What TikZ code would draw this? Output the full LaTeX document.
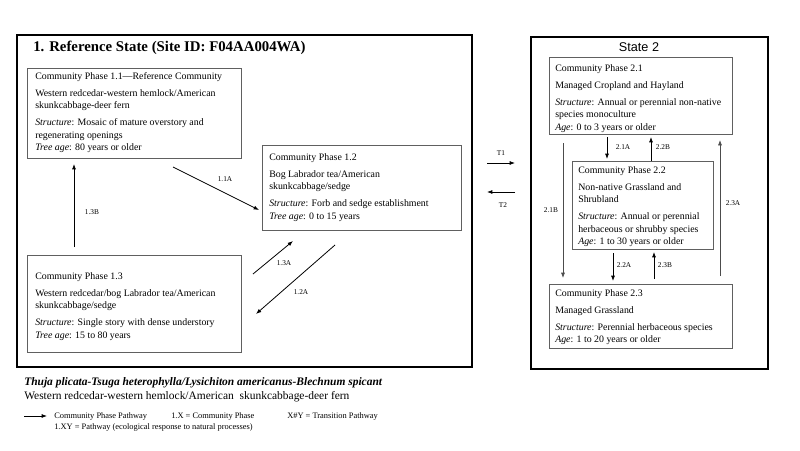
\documentclass[tikz,border=0pt]{standalone}
\usepackage{fontspec}
\setmainfont{Liberation Serif}
\setsansfont{Liberation Sans}
\usetikzlibrary{arrows.meta,fit}
\begin{document}
\begin{tikzpicture}[x=0.75pt,y=-0.75pt,
  outerbox/.style={draw=black,line width=1.5pt,inner sep=0pt},
  phasebox/.style={draw=gray!75!black,line width=0.6pt,inner sep=0pt},
  txt/.style={font=\fontsize{7.4}{9.4}\selectfont,align=left,inner sep=0pt,anchor=north west},
  arr/.style={-{Latex[length=4pt,width=3pt]},line width=0.6pt},
  thinarr/.style={-{Latex[length=4pt,width=3pt]},line width=0.5pt,draw=gray!60!black},
  lbl/.style={font=\fontsize{5.5}{6.5}\selectfont,inner sep=0pt},
  legtxt/.style={font=\fontsize{6.3}{7.5}\selectfont,inner sep=0pt,anchor=west}]
\useasboundingbox (0,0) rectangle (800,450);
\fill[white] (0,0) rectangle (800,450);

% states
\node[outerbox,fit={(17,35) (472,367)}] (s1) {};
\node[outerbox,fit={(531,37) (768,369)}] (s2) {};
\node[font=\fontsize{11.1}{13}\selectfont\bfseries,anchor=west,inner sep=0pt] (t1) at (33,48) {1. Reference State (Site ID: F04AA004WA)};
\node[font=\sffamily\fontsize{9.5}{11}\selectfont,inner sep=0pt] (t2) at (639,47) {State 2};

% phase boxes
\node[phasebox,fit={(27,68) (241,158)}] (p11) {};
\node[phasebox,fit={(262,145) (461,230)}] (p12) {};
\node[phasebox,fit={(27,255) (241,352)}] (p13) {};
\node[phasebox,fit={(549,57) (732,134)}] (p21) {};
\node[phasebox,fit={(572,161) (713,249)}] (p22) {};
\node[phasebox,fit={(549,284) (732,348)}] (p23) {};

\node[txt] (x11) at (35,72) {Community Phase 1.1—Reference Community\\[3.4pt]
Western redcedar-western hemlock/American\\ skunkcabbage-deer fern\\[3.4pt]
\textit{Structure}: Mosaic of mature overstory and\\ regenerating openings\\
\textit{Tree age}: 80 years or older};
\node[txt] (x12) at (269,153) {Community Phase 1.2\\[3.4pt]
Bog Labrador tea/American\\ skunkcabbage/sedge\\[3.4pt]
\textit{Structure}: Forb and sedge establishment\\
\textit{Tree age}: 0 to 15 years};
\node[txt] (x13) at (35,272) {Community Phase 1.3\\[3.4pt]
Western redcedar/bog Labrador tea/American\\ skunkcabbage/sedge\\[3.4pt]
\textit{Structure}: Single story with dense understory\\
\textit{Tree age}: 15 to 80 years};
\node[txt] (x21) at (555,64) {Community Phase 2.1\\[3.4pt]
Managed Cropland and Hayland\\[3.4pt]
\textit{Structure}: Annual or perennial non-native\\ species monoculture\\
\textit{Age}: 0 to 3 years or older};
\node[txt] (x22) at (578,166) {Community Phase 2.2\\[3.4pt]
Non-native Grassland and\\ Shrubland\\[3.4pt]
\textit{Structure}: Annual or perennial\\ herbaceous or shrubby species\\
\textit{Age}: 1 to 30 years or older};
\node[txt] (x23) at (555,289) {Community Phase 2.3\\[3.4pt]
Managed Grassland\\[3.4pt]
\textit{Structure}: Perennial herbaceous species\\
\textit{Age}: 1 to 20 years or older};

% arrow end points
\coordinate (a13b) at (74,247);   \coordinate (b13b) at (74,164);
\coordinate (a11a) at (173,167);  \coordinate (b11a) at (259,210);
\coordinate (a13a) at (253,274);  \coordinate (b13a) at (293,241);
\coordinate (a12a) at (335,245);  \coordinate (b12a) at (256,314);
\coordinate (at1) at (487,163);   \coordinate (bt1) at (515,163);
\coordinate (at2) at (515,192);   \coordinate (bt2) at (487,192);
\coordinate (a21a) at (607,137);  \coordinate (b21a) at (607,159);
\coordinate (a22b) at (651,161);  \coordinate (b22b) at (651,137);
\coordinate (a21b) at (563,143);  \coordinate (b21b) at (563,278);
\coordinate (a23a) at (720,276);  \coordinate (b23a) at (720,140);
\coordinate (a22a) at (613,253);  \coordinate (b22a) at (613,281);
\coordinate (a23b) at (654,279);  \coordinate (b23b) at (654,252);

\draw[arr] (a13b) -- (b13b);
\draw[arr] (a11a) -- (b11a);
\draw[arr] (a13a) -- (b13a);
\draw[arr] (a12a) -- (b12a);
\draw[arr] (at1) -- (bt1);
\draw[arr] (at2) -- (bt2);
\draw[arr] (a21a) -- (b21a);
\draw[arr] (a22b) -- (b22b);
\draw[thinarr] (a21b) -- (b21b);
\draw[thinarr] (a23a) -- (b23a);
\draw[arr] (a22a) -- (b22a);
\draw[arr] (a23b) -- (b23b);

% labels
\node[lbl] (l11a) at (225,179) {1.1A};
\node[lbl] (l13b) at (92,212) {1.3B};
\node[lbl] (l13a) at (284,263) {1.3A};
\node[lbl] (l12a) at (301,292) {1.2A};
\node[lbl] (lt1) at (501,153) {T1};
\node[lbl] (lt2) at (503,205) {T2};
\node[lbl] (l21a) at (623,147) {2.1A};
\node[lbl] (l22b) at (663,147) {2.2B};
\node[lbl] (l21b) at (551,210) {2.1B};
\node[lbl] (l23a) at (733,203) {2.3A};
\node[lbl] (l22a) at (624,265) {2.2A};
\node[lbl] (l23b) at (665,265) {2.3B};

% legend
\node[font=\fontsize{8.6}{10}\selectfont\bfseries\itshape,anchor=west,inner sep=0pt] (lg1) at (24,383) {Thuja plicata-Tsuga heterophylla/Lysichiton americanus-Blechnum spicant};
\node[font=\fontsize{8.6}{10}\selectfont,anchor=west,inner sep=0pt] (lg2) at (24,397) {Western redcedar-western hemlock/American\ \ skunkcabbage-deer fern};
\coordinate (lga) at (24,416); \coordinate (lgb) at (47,416);
\draw[arr] (lga) -- (lgb);
\node[legtxt] (lg3) at (54,416) {Community Phase Pathway};
\node[legtxt] (lg4) at (171,416) {1.X = Community Phase};
\node[legtxt] (lg5) at (287,416) {X\#Y = Transition Pathway};
\node[legtxt] (lg6) at (54,427) {1.XY = Pathway (ecological response to natural processes)};
\end{tikzpicture}
\end{document}
